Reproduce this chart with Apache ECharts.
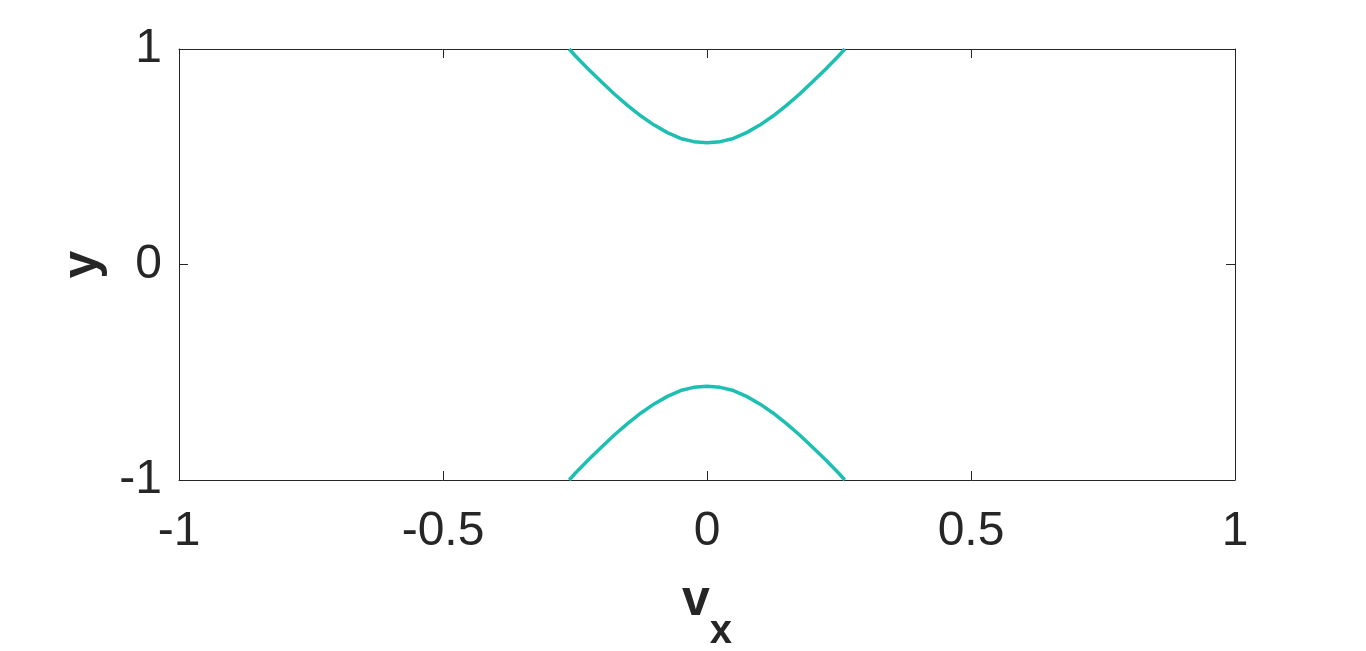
<!DOCTYPE html>
<html>
<head>
<meta charset="utf-8">
<script src="https://cdn.jsdelivr.net/npm/echarts@6/dist/echarts.min.js"></script>
<style>html,body{margin:0;padding:0;background:#fff;overflow:hidden;}#c{width:1366px;height:651px;}</style>
</head>
<body>
<div id="c"></div>
<script>
// values
const vx = [-0.261, -0.25, -0.225, -0.2, -0.175, -0.15, -0.125, -0.1, -0.075, -0.05, -0.025, 0,
            0.025, 0.05, 0.075, 0.1, 0.125, 0.15, 0.175, 0.2, 0.225, 0.25, 0.261];
const yUpper = [1.0, 0.97, 0.907, 0.848, 0.79, 0.737, 0.689, 0.647, 0.612, 0.585, 0.57, 0.565,
                0.57, 0.585, 0.612, 0.647, 0.689, 0.737, 0.79, 0.848, 0.907, 0.97, 1.0];
const yLower = [-1.0, -0.97, -0.907, -0.848, -0.79, -0.737, -0.689, -0.647, -0.612, -0.585, -0.57, -0.565,
                -0.57, -0.585, -0.612, -0.647, -0.689, -0.737, -0.79, -0.848, -0.907, -0.97, -1.0];
const xTicks = [-1, -0.5, 0, 0.5, 1];
const yTicks = [-1, 0, 1];

const FONT = 'Liberation Sans, Arial, sans-serif';
const TXT = '#262626';
const upper = vx.map((v, i) => [v, yUpper[i]]);
const lower = vx.map((v, i) => [v, yLower[i]]);

const chart = echarts.init(document.getElementById('c'), null, {renderer: 'canvas'});
const axisCommon = {
  type: 'value', min: -1, max: 1,
  axisLine: {show: true, onZero: false, lineStyle: {color: TXT, width: 1}},
  axisTick: {show: true, inside: true, length: 9, lineStyle: {color: TXT, width: 1}},
  splitLine: {show: false}
};
chart.setOption({
  animation: false,
  grid: {left: 179, right: 131, top: 49, bottom: 171, containLabel: false, outerBoundsMode: 'none'},
  xAxis: [
    Object.assign({}, axisCommon, {
      position: 'bottom', interval: 0.5,
      axisLabel: {show: true, margin: 28, fontSize: 48, fontFamily: FONT, color: TXT,
        formatter: v => xTicks.includes(v) ? String(v) : ''},
      name: '{v|v}{s|x}', nameLocation: 'middle', nameGap: 96,
      nameTextStyle: {rich: {
        v: {fontSize: 50, fontWeight: 'bold', fontFamily: FONT, color: TXT, verticalAlign: 'bottom', lineHeight: 50},
        s: {fontSize: 40, fontWeight: 'bold', fontFamily: FONT, color: TXT, verticalAlign: 'bottom', lineHeight: 50, padding: [0, 0, -26, 0]}
      }}
    }),
    Object.assign({}, axisCommon, {position: 'top', interval: 0.5, axisLabel: {show: false}})
  ],
  yAxis: [
    Object.assign({}, axisCommon, {
      position: 'left', interval: 1,
      axisLabel: {show: true, margin: 17, fontSize: 48, fontFamily: FONT, color: TXT,
        formatter: v => yTicks.includes(v) ? String(v) : ''},
      name: 'y', nameLocation: 'middle', nameGap: 68, nameRotate: 90,
      nameTextStyle: {fontSize: 50, fontWeight: 'bold', fontFamily: FONT, color: TXT}
    }),
    Object.assign({}, axisCommon, {position: 'right', interval: 1, axisLabel: {show: false}})
  ],
  series: [
    {type: 'line', data: upper, smooth: false, showSymbol: false, lineStyle: {color: '#1cbfb1', width: 3.5}, clip: true},
    {type: 'line', data: lower, smooth: false, showSymbol: false, lineStyle: {color: '#1cbfb1', width: 3.5}, clip: true}
  ]
});
</script>
</body>
</html>
